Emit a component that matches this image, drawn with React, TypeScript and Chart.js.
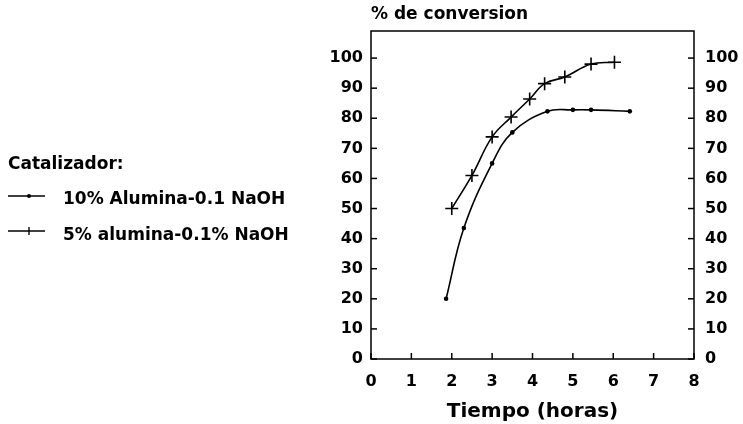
import React, { useEffect, useRef } from "react";
import { Chart, registerables } from "chart.js";

Chart.register(...registerables);

// ---- data ----
const series1X = [1.86, 2.3, 3.0, 3.5, 4.37, 5.0, 5.45, 6.41];
const series1Y = [20, 43.5, 65, 75.3, 82.3, 82.8, 82.8, 82.3];
const series2X = [2.0, 2.5, 3.0, 3.47, 3.93, 4.3, 4.8, 5.45, 6.03];
const series2Y = [50, 61, 73.8, 80.4, 86.4, 91.5, 93.7, 98, 98.6];
const seriesLabels = ["10% Alumina-0.1 NaOH", "5% alumina-0.1% NaOH"];
const legendTitle = "Catalizador:";
const yAxisTitle = "% de conversion";
const xAxisTitle = "Tiempo (horas)";
const xTickValues = [0, 1, 2, 3, 4, 5, 6, 7, 8];
const yTickValues = [0, 10, 20, 30, 40, 50, 60, 70, 80, 90, 100];

const W = 743;
const H = 424;
const FONT = "'DejaVu Sans', sans-serif";

const framePlugin = {
  id: "frame",
  afterDraw(chart: any) {
    const { ctx, chartArea: a, scales } = chart;
    ctx.save();
    ctx.strokeStyle = "#000";
    ctx.lineWidth = 1.5;
    ctx.strokeRect(a.left, a.top, a.right - a.left, a.bottom - a.top);
    const line = (x1: number, y1: number, x2: number, y2: number) => {
      ctx.beginPath();
      ctx.moveTo(x1, y1);
      ctx.lineTo(x2, y2);
      ctx.stroke();
    };
    const ys = scales.y;
    yTickValues.forEach((v) => {
      const p = ys.getPixelForValue(v);
      line(a.left, p, a.left + 6, p);
      line(a.right - 6, p, a.right, p);
    });
    const xs = scales.x;
    xTickValues.forEach((v) => {
      const p = xs.getPixelForValue(v);
      line(p, a.bottom, p, a.bottom - 6);
    });

    // y axis title on top
    ctx.fillStyle = "#000";
    ctx.font = `bold 17px ${FONT}`;
    ctx.textAlign = "left";
    ctx.textBaseline = "middle";
    ctx.fillText(yAxisTitle, a.left, 15);

    // legend
    ctx.fillText(legendTitle, 8, 165);
    ctx.lineWidth = 1.4;
    // series 1 sample
    line(8, 196, 45, 196);
    ctx.beginPath();
    ctx.arc(29, 196, 2, 0, Math.PI * 2);
    ctx.fill();
    ctx.fillText(seriesLabels[0], 63, 200);
    // series 2 sample
    line(8, 231, 45, 231);
    line(29, 227, 29, 235);
    ctx.fillText(seriesLabels[1], 63, 236);
    ctx.restore();
  },
};

export default function App() {
  const ref = useRef<HTMLCanvasElement | null>(null);

  useEffect(() => {
    if (!ref.current) return;
    const d1 = series1X.map((x, i) => ({ x, y: series1Y[i] }));
    const d2 = series2X.map((x, i) => ({ x, y: series2Y[i] }));
    const tickFont = { family: FONT, size: 16, weight: "bold" as const };
    const chart = new Chart(ref.current, {
      type: "scatter",
      data: {
        datasets: [
          {
            label: seriesLabels[0],
            data: d1,
            showLine: true,
            borderColor: "#000",
            backgroundColor: "#000",
            borderWidth: 1.6,
            pointStyle: "circle",
            pointRadius: 2.3,
            pointBorderWidth: 0,
            tension: 0.4,
          },
          {
            label: seriesLabels[1],
            data: d2,
            showLine: true,
            borderColor: "#000",
            backgroundColor: "#000",
            borderWidth: 1.6,
            pointStyle: "cross",
            pointRadius: 6.5,
            pointBorderWidth: 1.6,
            tension: 0.4,
          },
        ],
      },
      options: {
        animation: false,
        responsive: false,
        devicePixelRatio: 1,
        layout: { padding: { top: 31, left: 0, right: 0, bottom: 0 } },
        plugins: {
          legend: { display: false },
          tooltip: { enabled: false },
        },
        scales: {
          x: {
            type: "linear",
            min: 0,
            max: 8,
            grid: { display: false, drawTicks: false },
            border: { display: false },
            ticks: {
              stepSize: 1,
              color: "#000",
              font: tickFont,
              padding: 13,
              autoSkip: false,
              maxRotation: 0,
            },
            title: {
              display: true,
              text: xAxisTitle,
              color: "#000",
              font: { family: FONT, size: 20, weight: "bold" },
              padding: { top: 0, bottom: 0 },
            },
            afterFit(scale: any) {
              scale.height = 65;
            },
          },
          y: {
            type: "linear",
            position: "left",
            min: 0,
            max: 109,
            grid: { display: false, drawTicks: false },
            border: { display: false },
            ticks: {
              stepSize: 10,
              includeBounds: false,
              color: "#000",
              font: tickFont,
              padding: 8,
              autoSkip: false,
            },
            afterFit(scale: any) {
              scale.width = 371;
            },
          },
          y2: {
            type: "linear",
            position: "right",
            min: 0,
            max: 109,
            grid: { display: false, drawTicks: false },
            border: { display: false },
            ticks: {
              stepSize: 10,
              includeBounds: false,
              color: "#000",
              font: tickFont,
              padding: 11,
              autoSkip: false,
            },
            afterFit(scale: any) {
              scale.width = W - 694;
            },
          },
        },
      } as any,
      plugins: [framePlugin],
    });
    return () => chart.destroy();
  }, []);

  return (
    <div style={{ position: "absolute", left: 0, top: 0, width: W, height: H, background: "#fff" }}>
      <canvas ref={ref} width={W} height={H} style={{ width: W, height: H, display: "block" }} />
    </div>
  );
}
